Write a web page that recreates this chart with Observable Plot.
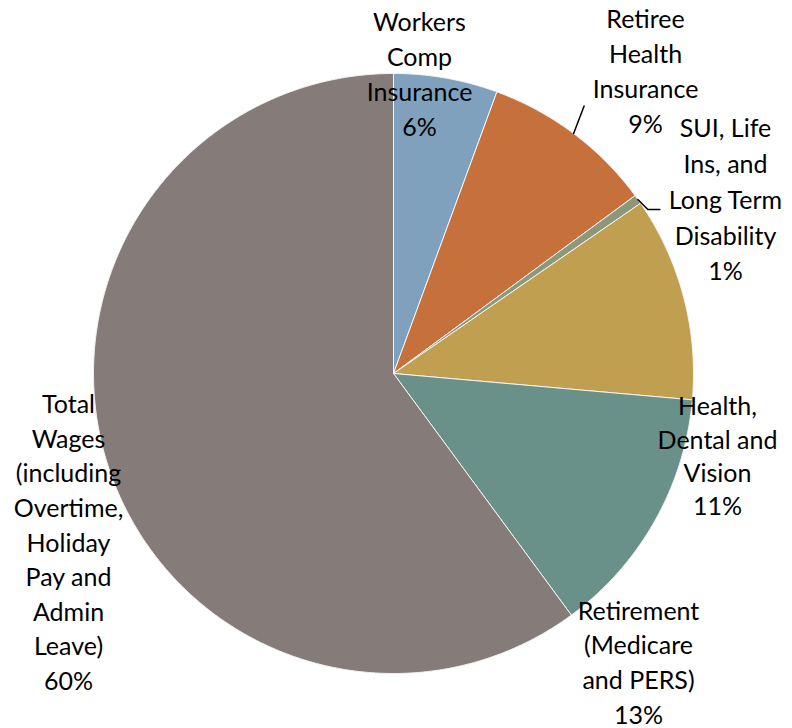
<!DOCTYPE html>
<html><head><meta charset="utf-8">
<script src="https://cdn.jsdelivr.net/npm/d3@7"></script>
<script src="https://cdn.jsdelivr.net/npm/@observablehq/plot@0.6"></script>
<style>body{margin:0;background:#fff}#chart svg{display:block}</style>
</head><body><div id="chart"></div>
<script>
// Data
const categories = ["Workers Comp Insurance", "Retiree Health Insurance", "SUI, Life Ins, and Long Term Disability", "Health, Dental and Vision", "Retirement (Medicare and PERS)", "Total Wages (including Overtime, Holiday Pay and Admin Leave)"];
const labelText = ["Workers\nComp\nInsurance", "Retiree\nHealth\nInsurance", "SUI, Life\nIns, and\nLong Term\nDisability", "Health,\nDental and\nVision", "Retirement\n(Medicare\nand PERS)", "Total\nWages\n(including\nOvertime,\nHoliday\nPay and\nAdmin\nLeave)"];
const values = [5.6, 9.3, 0.5, 11.0, 13.5, 60.1];
const percentLabels = ["6%", "9%", "1%", "11%", "13%", "60%"];
const colors = ["#7fa1bd", "#c6713c", "#8d977a", "#c0a050", "#6a9189", "#857c79"];

// Layout (label centres relative to pie centre, in px-equivalent units)
const labelX = [26, 252, 332, 324, 245, -325];
const labelY = [-301, -304, -176, 81, 287, 167];
const labelLH = [1.4, 1.4, 1.43, 1.33, 1.39, 1.385];

const W = 792, H = 728, cx = 393, cy = 373, R = 300;

const arcs = d3.pie().sort(null).value(d => d)(values);
const pt = (a, r) => ({x: r * Math.sin(a), y: -r * Math.cos(a)});

const slices = arcs.flatMap((p, i) => {
  const n = Math.max(4, Math.ceil((p.endAngle - p.startAngle) / 0.005));
  const pts = [{...pt(0, 0), cat: categories[i], k: i}];
  for (let j = 0; j <= n; j++) {
    const a = p.startAngle + (p.endAngle - p.startAngle) * j / n;
    pts.push({...pt(a, R), cat: categories[i], k: i});
  }
  pts.push({...pt(0, 0), cat: categories[i], k: i});
  return pts;
});

const mid = arcs.map(p => (p.startAngle + p.endAngle) / 2);
// leader lines for the two upper-right labels
const leaders = [
  [pt(mid[1], R), pt(mid[1] - 0.025, R * 1.095)].map(d => ({...d, k: 1})),
  [pt(mid[2], R), {x: pt(mid[2], R).x + 10, y: pt(mid[2], R).y + 10}, {x: pt(mid[2], R).x + 22, y: pt(mid[2], R).y + 10}].map(d => ({...d, k: 2}))
].flat();

const labels = categories.map((c, i) => ({
  text: labelText[i] + "\n" + percentLabels[i],
  x: labelX[i], y: labelY[i], lh: labelLH[i]
}));

const plot = Plot.plot({
  width: W, height: H,
  margin: 0,
  x: {domain: [-cx, W - cx], range: [0, W], axis: null},
  y: {domain: [-cy, H - cy], range: [0, H], axis: null},
  color: {domain: categories, range: colors},
  style: {background: "#fff"},
  marks: [
    Plot.line(slices, {x: "x", y: "y", z: "k", fill: "cat", stroke: "#f4f4f4", strokeWidth: 1, strokeLinejoin: "round"}),
    Plot.line(leaders, {x: "x", y: "y", z: "k", stroke: "#000", strokeWidth: 1.5}),
    ...labels.map(l => Plot.text([l], {x: "x", y: "y", text: "text", lineHeight: l.lh, fontSize: 25, fill: "#000", textAnchor: "middle", lineAnchor: "middle", fontFamily: "Lato, 'Open Sans', sans-serif"}))
  ]
});
document.getElementById("chart").append(plot);
</script>
</body></html>
